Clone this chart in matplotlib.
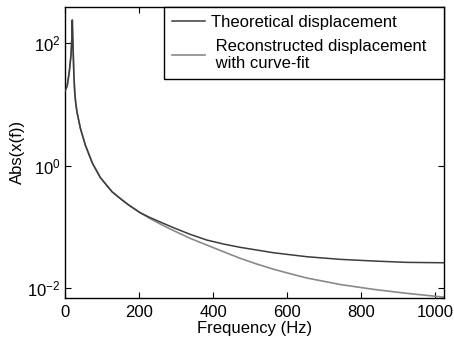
import matplotlib
matplotlib.use("Agg")
import matplotlib.pyplot as plt

# shared part of the two curves (resonance region)
freq_common = [0, 6, 11.6, 16.2, 18.6, 19.7, 21.0, 22.4, 24.0, 26.2, 29.0, 32.4,
               41.4, 54.9, 74.0, 95.4, 127, 150, 172, 202.7]
amp_common = [16.5, 20.0, 34.0, 63.7, 120.0, 237.0, 120.0, 63.7, 30.0, 16.1, 10.5, 7.5,
              4.11, 2.17, 1.10, 0.642, 0.377, 0.29, 0.229, 0.172]

# high-frequency tails, where the two curves separate
freq_tail_theory = [229.7, 260, 292.7, 338, 383, 428, 473, 563, 653, 743, 833, 923, 1024]
amp_tail_theory = [0.143, 0.119, 0.098, 0.0762, 0.0615, 0.053, 0.0468, 0.0382, 0.0329,
                   0.0298, 0.0280, 0.0266, 0.0262]

freq_tail_recon = [229.7, 260, 292.7, 338, 383, 428, 473, 518, 563, 608, 653, 743, 833,
                   923, 995, 1024]
amp_tail_recon = [0.138, 0.110, 0.088, 0.0656, 0.0510, 0.0397, 0.0310, 0.0250, 0.0206,
                  0.0174, 0.0148, 0.0116, 0.00967, 0.00832, 0.00752, 0.0072]

legend_labels = ["Theoretical displacement  ", " Reconstructed displacement  \n with curve-fit"]

plt.rcParams["font.family"] = ["Liberation Sans", "DejaVu Sans"]
plt.rcParams["mathtext.fontset"] = "custom"
plt.rcParams["mathtext.rm"] = "Liberation Sans"
plt.rcParams["mathtext.it"] = "Liberation Sans"
plt.rcParams["font.size"] = 12

fig = plt.figure(figsize=(4.54, 3.47), dpi=100)
ax = fig.add_axes([65 / 454, 1 - 297.7 / 347, (444 - 65) / 454, (297.7 - 7) / 347])

f_theory = freq_common + freq_tail_theory
a_theory = amp_common + amp_tail_theory
f_recon = freq_common + freq_tail_recon
a_recon = amp_common + amp_tail_recon

ax.semilogy(f_recon, a_recon, color="#8a8a8a", lw=1.2, label=legend_labels[1], zorder=2)
ax.semilogy(f_theory, a_theory, color="#3c3c3c", lw=1.1, label=legend_labels[0], zorder=3)

ax.set_xlim(0, 1024)
ax.set_ylim(10 ** -2.151, 10 ** 2.587)
ax.set_xticks([0, 200, 400, 600, 800, 1000])
ax.set_yticks([1e-2, 1e0, 1e2])
ax.yaxis.set_minor_locator(matplotlib.ticker.NullLocator())
ax.tick_params(direction="in", length=4, width=0.8, top=True, right=True, labelsize=12)
ax.tick_params(axis="x", pad=5)
ax.tick_params(axis="y", pad=3)
for sp in ax.spines.values():
    sp.set_linewidth(1.0)

ax.set_xlabel("Frequency (Hz)", fontsize=12, labelpad=1)
ax.set_ylabel("Abs(x(f))", fontsize=12, labelpad=2)

handles, labels = ax.get_legend_handles_labels()
leg = ax.legend(handles[::-1], labels[::-1], loc="upper right", bbox_to_anchor=(1.0, 1.0),
                borderaxespad=0, fancybox=False, framealpha=1, edgecolor="black",
                handlelength=2.0, handletextpad=0.35, borderpad=0.5, labelspacing=0.5,
                fontsize=12)
leg.get_frame().set_linewidth(1.0)

fig.savefig("out.png", dpi=100)
